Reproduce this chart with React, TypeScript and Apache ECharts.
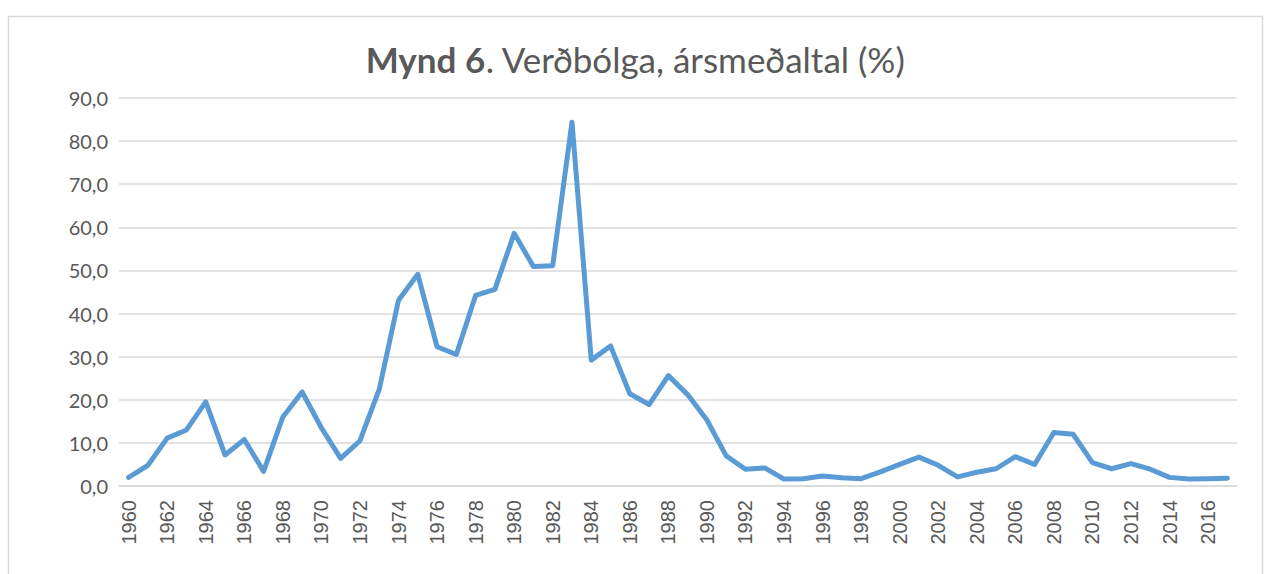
import React, { useEffect, useRef } from "react";
import * as echarts from "echarts";

const years: string[] = [];
for (let y = 1960; y <= 2017; y++) years.push(String(y));

const inflation = [
  2.0, 4.8, 11.1, 13.0, 19.5, 7.2, 10.8, 3.4, 16.0, 21.8,
  13.5, 6.4, 10.5, 22.4, 43.1, 49.1, 32.3, 30.5, 44.2, 45.6,
  58.6, 50.9, 51.1, 84.4, 29.2, 32.5, 21.4, 18.9, 25.6, 21.2,
  15.3, 7.0, 3.9, 4.2, 1.6, 1.7, 2.3, 1.9, 1.7, 3.3,
  5.0, 6.7, 4.8, 2.1, 3.2, 4.0, 6.8, 5.0, 12.4, 12.0,
  5.4, 4.0, 5.2, 3.9, 2.0, 1.6, 1.7, 1.8,
];

const titleBold = "Mynd 6";
const titleRest = ". Verðbólga, ársmeðaltal (%)";

export default function App() {
  const ref = useRef<HTMLDivElement>(null);
  useEffect(() => {
    document.body.style.margin = "0";
    const chart = echarts.init(ref.current!, null, { renderer: "svg" });
    chart.setOption({
      animation: false,
      backgroundColor: "#ffffff",
      graphic: [
        {
          type: "rect",
          shape: { x: 8.5, y: 16.5, width: 1254, height: 600 },
          style: { fill: "none", stroke: "#d9d9d9", lineWidth: 1.5 },
          silent: true,
        },
      ],
      title: {
        text: `{b|${titleBold}}{r|${titleRest}}`,
        left: "center",
        top: 36,
        textStyle: {
          rich: {
            b: { fontFamily: "Lato", fontWeight: "bold", fontSize: 35, color: "#595959" },
            r: { fontFamily: "Lato", fontWeight: "normal", fontSize: 35, color: "#595959" },
          },
        },
      },
      grid: { left: 119, right: 34, top: 98, bottom: 88, containLabel: false },
      xAxis: {
        type: "category",
        data: years,
        boundaryGap: true,
        axisLine: { lineStyle: { color: "#d9d9d9", width: 1.5 } },
        axisTick: { show: false },
        axisLabel: {
          interval: 1,
          rotate: 90,
          margin: 14,
          fontFamily: "Liberation Sans",
          fontSize: 20,
          color: "#595959",
        },
      },
      yAxis: {
        type: "value",
        min: 0,
        max: 90,
        interval: 10,
        axisLine: { show: false },
        axisTick: { show: false },
        splitLine: { lineStyle: { color: "#d9d9d9", width: 1.5 } },
        axisLabel: {
          margin: 11,
          fontFamily: "Lato",
          fontSize: 20,
          color: "#595959",
          formatter: (v: number) => v.toFixed(1).replace(".", ","),
        },
      },
      series: [
        {
          type: "line",
          data: inflation,
          showSymbol: false,
          lineStyle: { color: "#5b9bd5", width: 5, cap: "round", join: "round" },
          itemStyle: { color: "#5b9bd5" },
        },
      ],
    });
    return () => chart.dispose();
  }, []);
  return <div ref={ref} style={{ width: 1271, height: 574 }} />;
}
